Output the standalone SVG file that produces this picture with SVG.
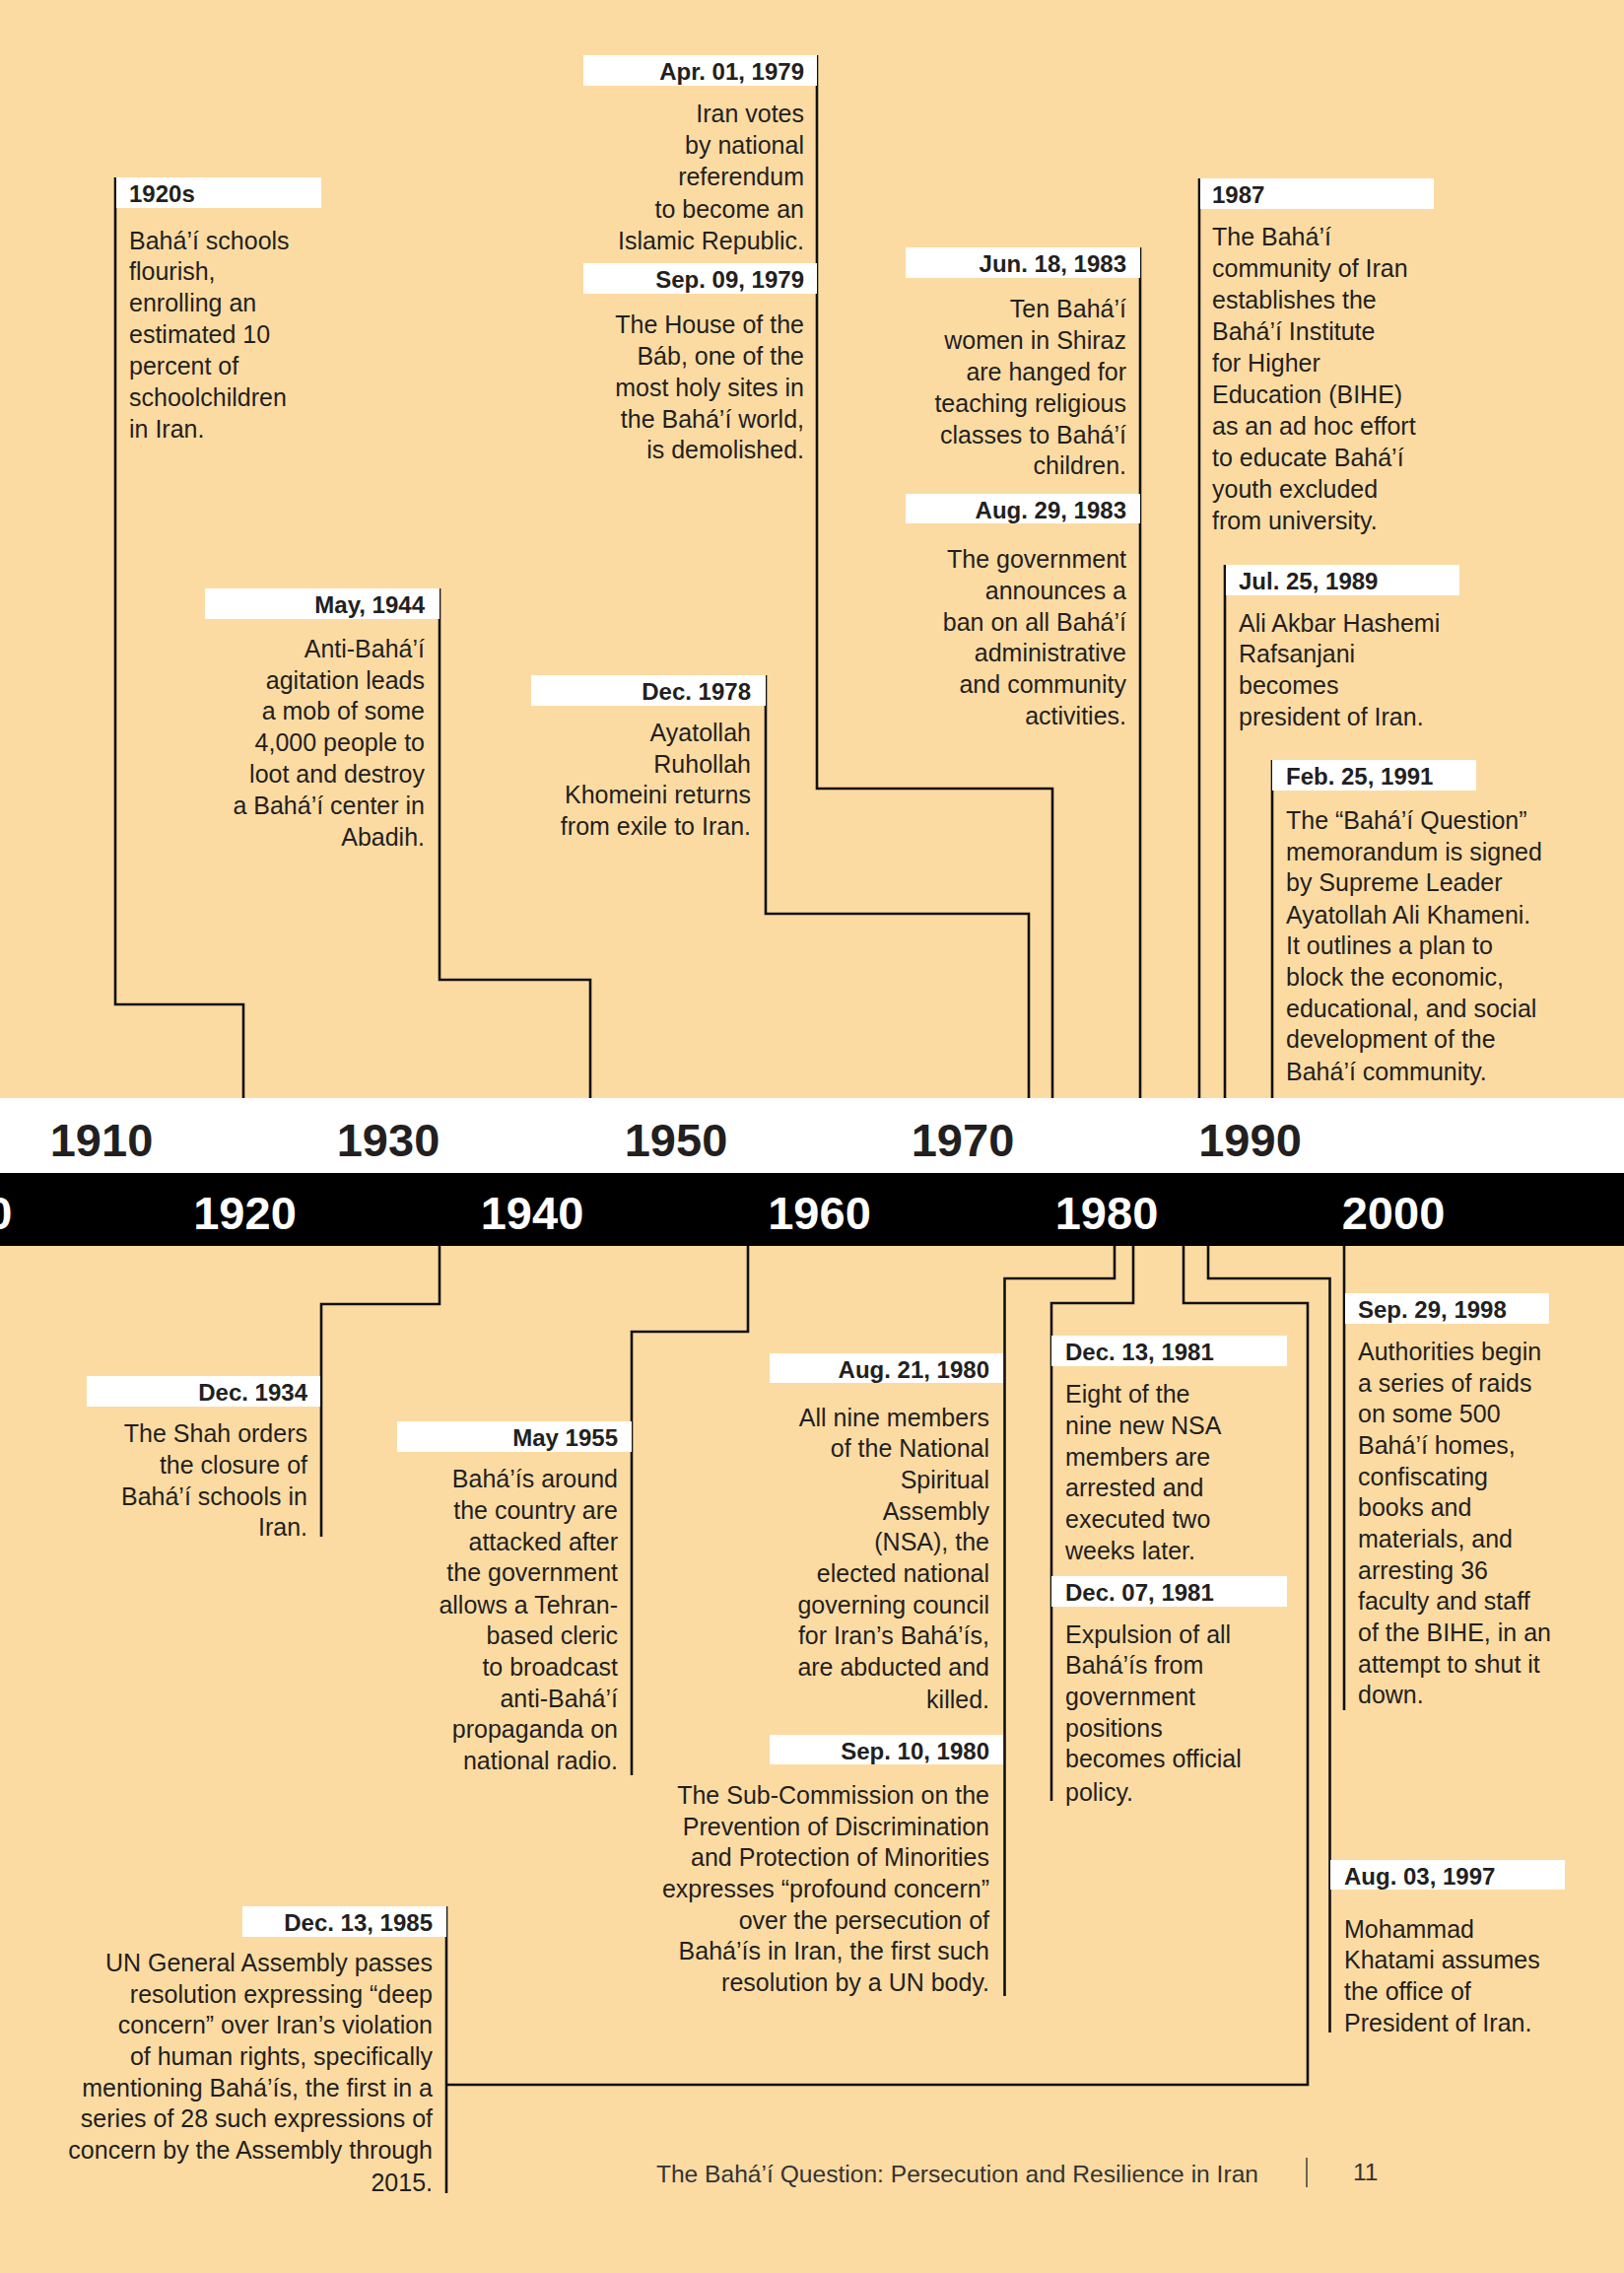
<svg xmlns="http://www.w3.org/2000/svg" width="1648" height="2306" viewBox="0 0 1648 2306">
<style>
text{font-family:"Liberation Sans",Arial,sans-serif;fill:#231f20}
.d{font-size:24px;font-weight:bold}
.b{font-size:25px}
.e{text-anchor:end}
.box{fill:#fff}
.dt{font-size:47px;font-weight:bold;text-anchor:middle}
.dw{fill:#fff}
.ln{fill:none;stroke:#111;stroke-width:2.6}
.foot{font-size:24.6px;fill:#333}
</style>
<rect x="0" y="0" width="1648" height="2306" fill="#fcdba2"/>
<g id="connectors">
<path class="ln" d="M117,180 V1019 H247 V1114"/>
<path class="ln" d="M446,597 V994 H599 V1114"/>
<path class="ln" d="M777,685 V927 H1044 V1114"/>
<path class="ln" d="M829,56 V800 H1068 V1114"/>
<path class="ln" d="M1157,251 V1114"/>
<path class="ln" d="M1217,181 V1114"/>
<path class="ln" d="M1243,573 V1114"/>
<path class="ln" d="M1291,771 V1114"/>
<path class="ln" d="M446,1264 V1323 H326 V1559"/>
<path class="ln" d="M759,1264 V1351 H641 V1801"/>
<path class="ln" d="M1131,1264 V1297 H1019.5 V2025"/>
<path class="ln" d="M1150,1264 V1322 H1067 V1827"/>
<path class="ln" d="M1201,1264 V1322 H1327 V2115 H453"/>
<path class="ln" d="M453,1934 V2225"/>
<path class="ln" d="M1226,1264 V1297 H1349.5 V2062"/>
<path class="ln" d="M1364,1264 V1735"/>
</g>
<g id="timeline">
<rect x="0" y="1114" width="1648" height="76" fill="#fff"/>
<rect x="0" y="1190" width="1648" height="74" fill="#000"/>
<text class="dt" x="103" y="1173">1910</text>
<text class="dt" x="394" y="1173">1930</text>
<text class="dt" x="686" y="1173">1950</text>
<text class="dt" x="977" y="1173">1970</text>
<text class="dt" x="1268.5" y="1173">1990</text>
<text class="dt dw" x="-40" y="1247">1900</text>
<text class="dt dw" x="248.5" y="1247">1920</text>
<text class="dt dw" x="540" y="1247">1940</text>
<text class="dt dw" x="831.5" y="1247">1960</text>
<text class="dt dw" x="1123" y="1247">1980</text>
<text class="dt dw" x="1414" y="1247">2000</text>
</g>
<g id="ev-1920s">
<rect class="box" x="118" y="180" width="208" height="31"/>
<text class="d" x="131" y="205">1920s</text>
<text class="b"><tspan x="131" y="253">Bahá’í schools</tspan><tspan x="131" y="284">flourish,</tspan><tspan x="131" y="316">enrolling an</tspan><tspan x="131" y="348">estimated 10</tspan><tspan x="131" y="380">percent of</tspan><tspan x="131" y="412">schoolchildren</tspan><tspan x="131" y="444">in Iran.</tspan></text>
</g>
<g id="ev-1944">
<rect class="box" x="208" y="597" width="238" height="31"/>
<text class="d e" x="431" y="622">May, 1944</text>
<text class="b e"><tspan x="431" y="667">Anti-Bahá’í</tspan><tspan x="431" y="699">agitation leads</tspan><tspan x="431" y="730">a mob of some</tspan><tspan x="431" y="762">4,000 people to</tspan><tspan x="431" y="794">loot and destroy</tspan><tspan x="431" y="826">a Bahá’í center in</tspan><tspan x="431" y="858">Abadih.</tspan></text>
</g>
<g id="ev-1978">
<rect class="box" x="539" y="685" width="238" height="31"/>
<text class="d e" x="762" y="710">Dec. 1978</text>
<text class="b e"><tspan x="762" y="752">Ayatollah</tspan><tspan x="762" y="784">Ruhollah</tspan><tspan x="762" y="815">Khomeini returns</tspan><tspan x="762" y="847">from exile to Iran.</tspan></text>
</g>
<g id="ev-apr1979">
<rect class="box" x="592" y="56" width="237" height="31"/>
<text class="d e" x="816" y="81">Apr. 01, 1979</text>
<text class="b e"><tspan x="816" y="124">Iran votes</tspan><tspan x="816" y="156">by national</tspan><tspan x="816" y="188">referendum</tspan><tspan x="816" y="221">to become an</tspan><tspan x="816" y="253">Islamic Republic.</tspan></text>
</g>
<g id="ev-sep1979">
<rect class="box" x="592" y="267" width="237" height="31"/>
<text class="d e" x="816" y="292">Sep. 09, 1979</text>
<text class="b e"><tspan x="816" y="338">The House of the</tspan><tspan x="816" y="370">Báb, one of the</tspan><tspan x="816" y="402">most holy sites in</tspan><tspan x="816" y="434">the Bahá’í world,</tspan><tspan x="816" y="465">is demolished.</tspan></text>
</g>
<g id="ev-jun1983">
<rect class="box" x="919" y="251" width="238" height="31"/>
<text class="d e" x="1143" y="276">Jun. 18, 1983</text>
<text class="b e"><tspan x="1143" y="322">Ten Bahá’í</tspan><tspan x="1143" y="354">women in Shiraz</tspan><tspan x="1143" y="386">are hanged for</tspan><tspan x="1143" y="418">teaching religious</tspan><tspan x="1143" y="450">classes to Bahá’í</tspan><tspan x="1143" y="481">children.</tspan></text>
</g>
<g id="ev-aug1983">
<rect class="box" x="919" y="501" width="238" height="30"/>
<text class="d e" x="1143" y="526">Aug. 29, 1983</text>
<text class="b e"><tspan x="1143" y="576">The government</tspan><tspan x="1143" y="608">announces a</tspan><tspan x="1143" y="640">ban on all Bahá’í</tspan><tspan x="1143" y="671">administrative</tspan><tspan x="1143" y="703">and community</tspan><tspan x="1143" y="735">activities.</tspan></text>
</g>
<g id="ev-1987">
<rect class="box" x="1218" y="181" width="237" height="31"/>
<text class="d" x="1230" y="206">1987</text>
<text class="b"><tspan x="1230" y="249">The Bahá’í</tspan><tspan x="1230" y="281">community of Iran</tspan><tspan x="1230" y="313">establishes the</tspan><tspan x="1230" y="345">Bahá’í Institute</tspan><tspan x="1230" y="377">for Higher</tspan><tspan x="1230" y="409">Education (BIHE)</tspan><tspan x="1230" y="441">as an ad hoc effort</tspan><tspan x="1230" y="473">to educate Bahá’í</tspan><tspan x="1230" y="505">youth excluded</tspan><tspan x="1230" y="537">from university.</tspan></text>
</g>
<g id="ev-1989">
<rect class="box" x="1244" y="573" width="237" height="31"/>
<text class="d" x="1257" y="598">Jul. 25, 1989</text>
<text class="b"><tspan x="1257" y="641">Ali Akbar Hashemi</tspan><tspan x="1257" y="672">Rafsanjani</tspan><tspan x="1257" y="704">becomes</tspan><tspan x="1257" y="736">president of Iran.</tspan></text>
</g>
<g id="ev-1991">
<rect class="box" x="1291" y="771" width="207" height="31"/>
<text class="d" x="1305" y="796">Feb. 25, 1991</text>
<text class="b"><tspan x="1305" y="841">The “Bahá’í Question”</tspan><tspan x="1305" y="873">memorandum is signed</tspan><tspan x="1305" y="904">by Supreme Leader</tspan><tspan x="1305" y="937">Ayatollah Ali Khameni.</tspan><tspan x="1305" y="968">It outlines a plan to</tspan><tspan x="1305" y="1000">block the economic,</tspan><tspan x="1305" y="1032">educational, and social</tspan><tspan x="1305" y="1063">development of the</tspan><tspan x="1305" y="1096">Bahá’í community.</tspan></text>
</g>
<g id="ev-1934">
<rect class="box" x="88" y="1396" width="237" height="31"/>
<text class="d e" x="312" y="1421">Dec. 1934</text>
<text class="b e"><tspan x="312" y="1463">The Shah orders</tspan><tspan x="312" y="1495">the closure of</tspan><tspan x="312" y="1527">Bahá’í schools in</tspan><tspan x="312" y="1558">Iran.</tspan></text>
</g>
<g id="ev-1955">
<rect class="box" x="403" y="1442" width="238" height="31"/>
<text class="d e" x="627" y="1467">May 1955</text>
<text class="b e"><tspan x="627" y="1509">Bahá’ís around</tspan><tspan x="627" y="1541">the country are</tspan><tspan x="627" y="1573">attacked after</tspan><tspan x="627" y="1604">the government</tspan><tspan x="627" y="1637">allows a Tehran-</tspan><tspan x="627" y="1668">based cleric</tspan><tspan x="627" y="1700">to broadcast</tspan><tspan x="627" y="1732">anti-Bahá’í</tspan><tspan x="627" y="1763">propaganda on</tspan><tspan x="627" y="1795">national radio.</tspan></text>
</g>
<g id="ev-aug1980">
<rect class="box" x="781" y="1373" width="237" height="30"/>
<text class="d e" x="1004" y="1398">Aug. 21, 1980</text>
<text class="b e"><tspan x="1004" y="1447">All nine members</tspan><tspan x="1004" y="1478">of the National</tspan><tspan x="1004" y="1510">Spiritual</tspan><tspan x="1004" y="1542">Assembly</tspan><tspan x="1004" y="1573">(NSA), the</tspan><tspan x="1004" y="1605">elected national</tspan><tspan x="1004" y="1637">governing council</tspan><tspan x="1004" y="1668">for Iran’s Bahá’ís,</tspan><tspan x="1004" y="1700">are abducted and</tspan><tspan x="1004" y="1733">killed.</tspan></text>
</g>
<g id="ev-sep1980">
<rect class="box" x="781" y="1760" width="237" height="30"/>
<text class="d e" x="1004" y="1785">Sep. 10, 1980</text>
<text class="b e"><tspan x="1004" y="1830">The Sub-Commission on the</tspan><tspan x="1004" y="1862">Prevention of Discrimination</tspan><tspan x="1004" y="1893">and Protection of Minorities</tspan><tspan x="1004" y="1925">expresses “profound concern”</tspan><tspan x="1004" y="1957">over the persecution of</tspan><tspan x="1004" y="1988">Bahá’ís in Iran, the first such</tspan><tspan x="1004" y="2020">resolution by a UN body.</tspan></text>
</g>
<g id="ev-dec13-1981">
<rect class="box" x="1067" y="1355" width="239" height="31"/>
<text class="d" x="1081" y="1380">Dec. 13, 1981</text>
<text class="b"><tspan x="1081" y="1423">Eight of the</tspan><tspan x="1081" y="1455">nine new NSA</tspan><tspan x="1081" y="1487">members are</tspan><tspan x="1081" y="1518">arrested and</tspan><tspan x="1081" y="1550">executed two</tspan><tspan x="1081" y="1582">weeks later.</tspan></text>
</g>
<g id="ev-dec07-1981">
<rect class="box" x="1067" y="1599" width="239" height="31"/>
<text class="d" x="1081" y="1624">Dec. 07, 1981</text>
<text class="b"><tspan x="1081" y="1667">Expulsion of all</tspan><tspan x="1081" y="1698">Bahá’ís from</tspan><tspan x="1081" y="1730">government</tspan><tspan x="1081" y="1762">positions</tspan><tspan x="1081" y="1793">becomes official</tspan><tspan x="1081" y="1827">policy.</tspan></text>
</g>
<g id="ev-1998">
<rect class="box" x="1365" y="1312" width="207" height="31"/>
<text class="d" x="1378" y="1337">Sep. 29, 1998</text>
<text class="b"><tspan x="1378" y="1380">Authorities begin</tspan><tspan x="1378" y="1412">a series of raids</tspan><tspan x="1378" y="1443">on some 500</tspan><tspan x="1378" y="1475">Bahá’í homes,</tspan><tspan x="1378" y="1507">confiscating</tspan><tspan x="1378" y="1538">books and</tspan><tspan x="1378" y="1570">materials, and</tspan><tspan x="1378" y="1602">arresting 36</tspan><tspan x="1378" y="1633">faculty and staff</tspan><tspan x="1378" y="1665">of the BIHE, in an</tspan><tspan x="1378" y="1697">attempt to shut it</tspan><tspan x="1378" y="1728">down.</tspan></text>
</g>
<g id="ev-1997">
<rect class="box" x="1350" y="1887" width="238" height="30"/>
<text class="d" x="1364" y="1912">Aug. 03, 1997</text>
<text class="b"><tspan x="1364" y="1966">Mohammad</tspan><tspan x="1364" y="1997">Khatami assumes</tspan><tspan x="1364" y="2029">the office of</tspan><tspan x="1364" y="2061">President of Iran.</tspan></text>
</g>
<g id="ev-1985">
<rect class="box" x="246" y="1934" width="207" height="31"/>
<text class="d e" x="439" y="1959">Dec. 13, 1985</text>
<text class="b e"><tspan x="439" y="2000">UN General Assembly passes</tspan><tspan x="439" y="2032">resolution expressing “deep</tspan><tspan x="439" y="2063">concern” over Iran’s violation</tspan><tspan x="439" y="2095">of human rights, specifically</tspan><tspan x="439" y="2127">mentioning Bahá’ís, the first in a</tspan><tspan x="439" y="2158">series of 28 such expressions of</tspan><tspan x="439" y="2190">concern by the Assembly through</tspan><tspan x="439" y="2223">2015.</tspan></text>
</g>
<g id="footer">
<text class="foot e" x="1277" y="2214">The Bahá’í Question: Persecution and Resilience in Iran</text>
<line x1="1326" y1="2189" x2="1326" y2="2219" stroke="#333" stroke-width="1.4"/>
<text class="foot" x="1373" y="2212">11</text>
</g>
</svg>
